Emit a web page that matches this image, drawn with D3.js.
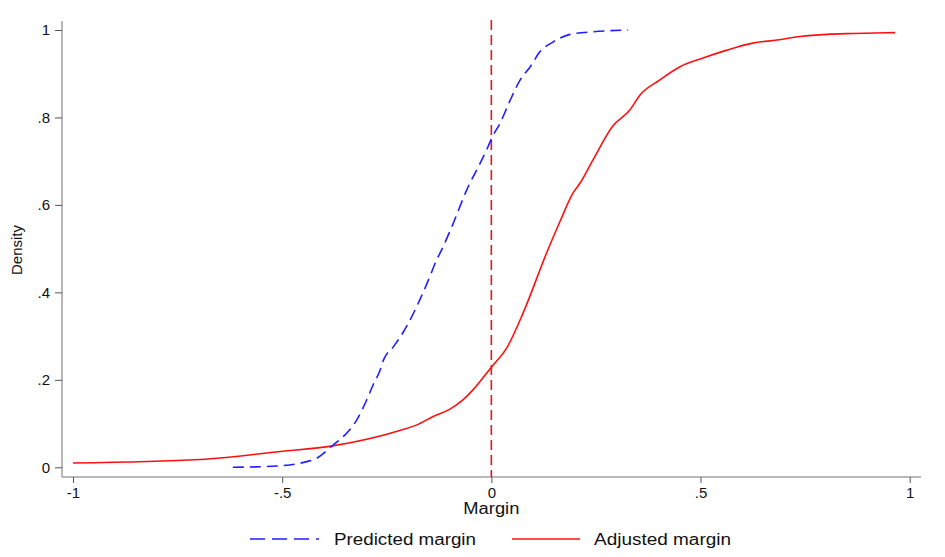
<!DOCTYPE html>
<html>
<head>
<meta charset="utf-8">
<script src="https://cdn.jsdelivr.net/npm/d3@7"></script>
<style>
    body { margin: 0; background: #fff; }
    svg { font-family: 'Liberation Sans', Arial, sans-serif; }
    .tick text { font-size: 15px; fill: #111; }
    .tick line { stroke: #555; }
</style>
</head>
<body>
<svg class="chart" width="945" height="557"></svg>
<script>
// Predicted margin (blue dashed) - cumulative curve
var predX = [-0.618, -0.513, -0.441, -0.421, -0.378, -0.354, -0.322, -0.298, -0.282, -0.266, -0.258, -0.234, -0.21, -0.170, -0.147, -0.131, -0.123, -0.091, -0.059, -0.027, -0.008, 0.001, 0.021, 0.043, 0.069, 0.093, 0.116, 0.148, 0.188, 0.244, 0.327];
var predY = [0.0, 0.003, 0.013, 0.019, 0.051, 0.07, 0.108, 0.154, 0.19, 0.222, 0.245, 0.276, 0.31, 0.385, 0.436, 0.474, 0.489, 0.558, 0.634, 0.695, 0.733, 0.753, 0.787, 0.835, 0.886, 0.916, 0.95, 0.973, 0.990, 0.996, 1.0];

// Adjusted margin (red solid)
var adjX = [-1.0, -0.696, -0.505, -0.379, -0.219, -0.178, -0.139, -0.099, -0.068, -0.044, 0.0, 0.038, 0.076, 0.132, 0.164, 0.195, 0.212, 0.243, 0.289, 0.331, 0.355, 0.403, 0.451, 0.506, 0.563, 0.625, 0.683, 0.738, 0.802, 0.864, 0.965];
var adjY = [0.010, 0.018, 0.036, 0.049, 0.084, 0.097, 0.116, 0.133, 0.154, 0.177, 0.229, 0.275, 0.353, 0.49, 0.562, 0.627, 0.65, 0.703, 0.779, 0.817, 0.851, 0.886, 0.916, 0.936, 0.954, 0.970, 0.977, 0.985, 0.990, 0.992, 0.994];

var xTicks = [-1, -0.5, 0, 0.5, 1];
var xTickLabels = ['-1', '-.5', '0', '.5', '1'];
var yTicks = [0, 0.2, 0.4, 0.6, 0.8, 1];
var yTickLabels = ['0', '.2', '.4', '.6', '.8', '1'];
var refLineX = 0;

var seriesNames = ['Predicted margin', 'Adjusted margin'];

var svg = d3.select('.chart');

var x = d3.scaleLinear().domain([-1, 1]).range([73, 909.7]);
var y = d3.scaleLinear().domain([0, 1]).range([467.3, 30]);

var plotLeft = 62, plotRight = 921, plotTop = 21, plotBottom = 477;

// axis lines (Stata-style, extend beyond ticks)
svg.append('line')
    .attr('x1', plotLeft).attr('x2', plotLeft)
    .attr('y1', plotTop).attr('y2', plotBottom)
    .attr('stroke', '#a0a0a0').attr('stroke-width', 1.5);
svg.append('line')
    .attr('x1', plotLeft).attr('x2', plotRight)
    .attr('y1', plotBottom).attr('y2', plotBottom)
    .attr('stroke', '#a0a0a0').attr('stroke-width', 1.5);

var xAxis = d3.axisBottom(x)
    .tickValues(xTicks)
    .tickFormat((d, i) => xTickLabels[i])
    .tickSize(6)
    .tickPadding(4);

var yAxis = d3.axisLeft(y)
    .tickValues(yTicks)
    .tickFormat((d, i) => yTickLabels[i])
    .tickSize(7)
    .tickPadding(5);

svg.append('g')
    .attr('class', 'x axis')
    .attr('transform', 'translate(0,' + plotBottom + ')')
    .call(xAxis)
    .call(g => g.select('.domain').remove());

svg.append('g')
    .attr('class', 'y axis')
    .attr('transform', 'translate(' + plotLeft + ',0)')
    .call(yAxis)
    .call(g => g.select('.domain').remove());

// reference line at zero
svg.append('line')
    .attr('x1', x(refLineX)).attr('x2', x(refLineX))
    .attr('y1', 20).attr('y2', plotBottom)
    .attr('stroke', '#e8141b')
    .attr('stroke-width', 1.6)
    .attr('stroke-dasharray', '10,5');

var line = d3.line()
    .curve(d3.curveMonotoneX)
    .x(d => x(d[0]))
    .y(d => y(d[1]));

var adjData = adjX.map((v, i) => [v, adjY[i]]);
var predData = predX.map((v, i) => [v, predY[i]]);

svg.append('path')
    .datum(adjData)
    .attr('d', line)
    .attr('fill', 'none')
    .attr('stroke', '#ff1010')
    .attr('stroke-width', 1.6);

svg.append('path')
    .datum(predData)
    .attr('d', line)
    .attr('fill', 'none')
    .attr('stroke', '#1f1fff')
    .attr('stroke-width', 1.6)
    .attr('stroke-dasharray', '11,6');

// axis titles
svg.append('text')
    .attr('x', x(0))
    .attr('y', 514)
    .attr('text-anchor', 'middle')
    .style('font-size', '16px')
    .attr('fill', '#111')
    .attr('textLength', 56)
    .attr('lengthAdjust', 'spacingAndGlyphs')
    .text('Margin');

svg.append('text')
    .attr('transform', 'translate(22,250) rotate(-90)')
    .attr('text-anchor', 'middle')
    .style('font-size', '15px')
    .attr('fill', '#111')
    .text('Density');

// legend
var legend = svg.append('g').attr('class', 'legend');
legend.append('line')
    .attr('x1', 250).attr('x2', 319).attr('y1', 539).attr('y2', 539)
    .attr('stroke', '#1f1fff').attr('stroke-width', 1.6)
    .attr('stroke-dasharray', '15,7');
legend.append('text')
    .attr('x', 334).attr('y', 545)
    .style('font-size', '16px').attr('fill', '#111')
    .attr('textLength', 142)
    .attr('lengthAdjust', 'spacingAndGlyphs')
    .text(seriesNames[0]);
legend.append('line')
    .attr('x1', 512).attr('x2', 580).attr('y1', 539).attr('y2', 539)
    .attr('stroke', '#ff1010').attr('stroke-width', 1.6);
legend.append('text')
    .attr('x', 594).attr('y', 545)
    .style('font-size', '16px').attr('fill', '#111')
    .attr('textLength', 137)
    .attr('lengthAdjust', 'spacingAndGlyphs')
    .text(seriesNames[1]);
</script>
</body>
</html>
